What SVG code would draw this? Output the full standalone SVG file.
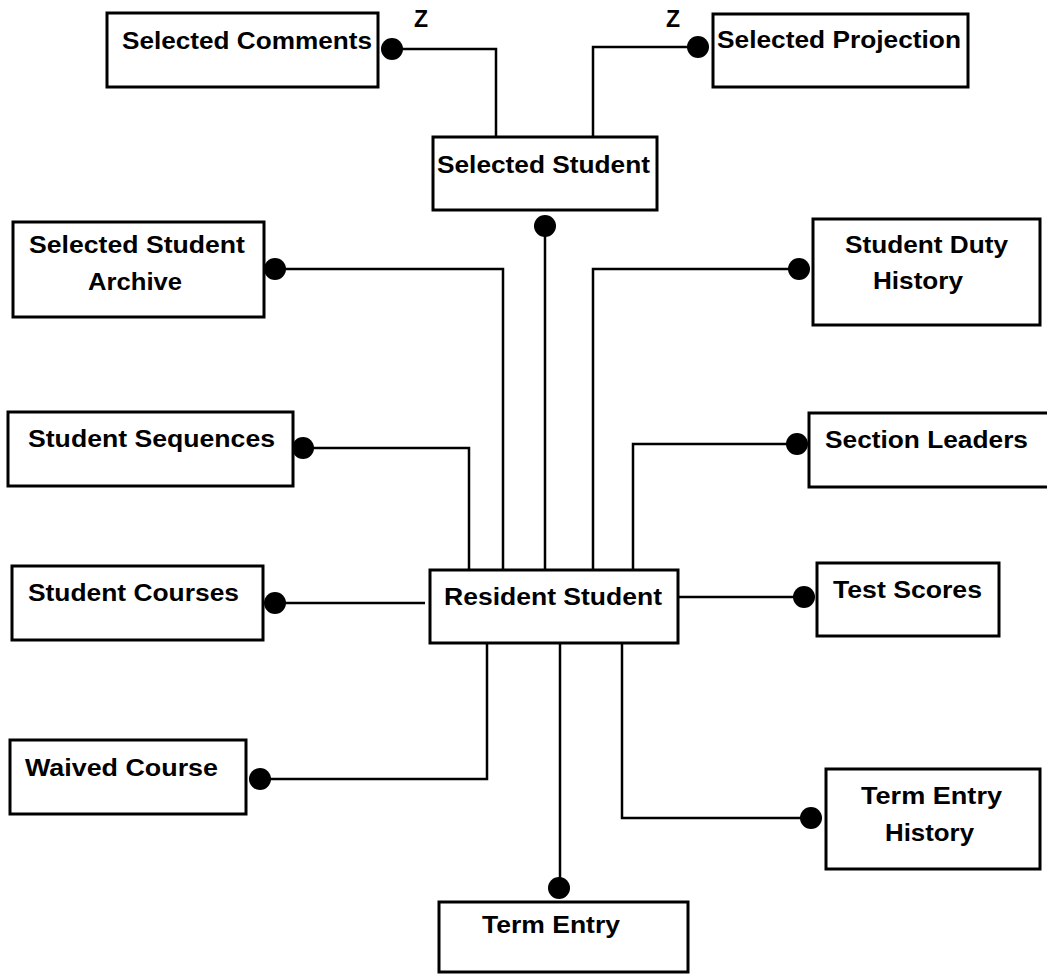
<svg xmlns="http://www.w3.org/2000/svg" width="1047" height="974" viewBox="0 0 1047 974">
<style>
.box{fill:#fff;stroke:#000;stroke-width:3}
.lbl{font-family:"Liberation Sans",Arial,sans-serif;font-weight:bold;font-size:23px;fill:#000}
.mid{text-anchor:middle}
.con{fill:none;stroke:#000;stroke-width:2.5}
.dot{fill:#000}
</style>
<rect width="1047" height="974" fill="#fff"/>
<g id="connectors">
<path class="con" d="M392,49 H496 V137"/>
<path class="con" d="M698,47 H593 V137"/>
<path class="con" d="M545,226 V570"/>
<path class="con" d="M275,269 H503 V570"/>
<path class="con" d="M799,269 H593 V570"/>
<path class="con" d="M303,448 H469 V570"/>
<path class="con" d="M797,444 H633 V570"/>
<path class="con" d="M275,603 H425"/>
<path class="con" d="M678,597 H804"/>
<path class="con" d="M260,779 H487 V643"/>
<path class="con" d="M622,643 V818 H811"/>
<path class="con" d="M560,643 V888"/>
<circle class="dot" cx="392" cy="49" r="11"/>
<circle class="dot" cx="698" cy="47" r="11"/>
<circle class="dot" cx="545" cy="226" r="11"/>
<circle class="dot" cx="275" cy="269" r="11"/>
<circle class="dot" cx="799" cy="269" r="11"/>
<circle class="dot" cx="303" cy="448" r="11"/>
<circle class="dot" cx="797" cy="444" r="11"/>
<circle class="dot" cx="275" cy="603" r="11"/>
<circle class="dot" cx="804" cy="597" r="11"/>
<circle class="dot" cx="260" cy="779" r="11"/>
<circle class="dot" cx="811" cy="818" r="11"/>
<circle class="dot" cx="559" cy="888" r="11"/>
<text class="lbl" x="414" y="27" font-size="20">Z</text>
<text class="lbl" x="666" y="27" font-size="20">Z</text>
</g>
<g id="selected-comments">
<rect class="box" x="107" y="13" width="271" height="74"/>
<text class="lbl" x="122" y="49" textLength="250" lengthAdjust="spacingAndGlyphs">Selected Comments</text>
</g>
<g id="selected-projection">
<rect class="box" x="713" y="14" width="255" height="73"/>
<text class="lbl" x="717" y="48" textLength="244" lengthAdjust="spacingAndGlyphs">Selected Projection</text>
</g>
<g id="selected-student">
<rect class="box" x="433" y="137" width="224" height="73"/>
<text class="lbl" x="437" y="173" textLength="213" lengthAdjust="spacingAndGlyphs">Selected Student</text>
</g>
<g id="selected-student-archive">
<rect class="box" x="13" y="222" width="251" height="95"/>
<text class="lbl" x="29" y="253" textLength="216" lengthAdjust="spacingAndGlyphs">Selected Student</text>
<text class="lbl" x="88" y="290" textLength="94" lengthAdjust="spacingAndGlyphs">Archive</text>
</g>
<g id="student-duty-history">
<rect class="box" x="813" y="219" width="227" height="106"/>
<text class="lbl" x="845" y="253" textLength="163" lengthAdjust="spacingAndGlyphs">Student Duty</text>
<text class="lbl" x="873" y="289" textLength="90" lengthAdjust="spacingAndGlyphs">History</text>
</g>
<g id="student-sequences">
<rect class="box" x="8" y="412" width="285" height="74"/>
<text class="lbl" x="28" y="447" textLength="247" lengthAdjust="spacingAndGlyphs">Student Sequences</text>
</g>
<g id="section-leaders">
<rect class="box" x="809" y="413" width="240" height="74"/>
<text class="lbl" x="825" y="448" textLength="203" lengthAdjust="spacingAndGlyphs">Section Leaders</text>
</g>
<g id="student-courses">
<rect class="box" x="12" y="566" width="251" height="74"/>
<text class="lbl" x="28" y="601" textLength="211" lengthAdjust="spacingAndGlyphs">Student Courses</text>
</g>
<g id="resident-student">
<rect class="box" x="430" y="570" width="248" height="73"/>
<text class="lbl" x="444" y="605" textLength="218" lengthAdjust="spacingAndGlyphs">Resident Student</text>
</g>
<g id="test-scores">
<rect class="box" x="817" y="563" width="182" height="73"/>
<text class="lbl" x="833" y="598" textLength="149" lengthAdjust="spacingAndGlyphs">Test Scores</text>
</g>
<g id="waived-course">
<rect class="box" x="10" y="740" width="236" height="74"/>
<text class="lbl" x="25" y="776" textLength="193" lengthAdjust="spacingAndGlyphs">Waived Course</text>
</g>
<g id="term-entry-history">
<rect class="box" x="826" y="769" width="214" height="100"/>
<text class="lbl" x="861" y="804" textLength="141" lengthAdjust="spacingAndGlyphs">Term Entry</text>
<text class="lbl" x="885" y="841" textLength="89" lengthAdjust="spacingAndGlyphs">History</text>
</g>
<g id="term-entry">
<rect class="box" x="439" y="902" width="249" height="70"/>
<text class="lbl" x="482" y="933" textLength="138" lengthAdjust="spacingAndGlyphs">Term Entry</text>
</g>
</svg>
